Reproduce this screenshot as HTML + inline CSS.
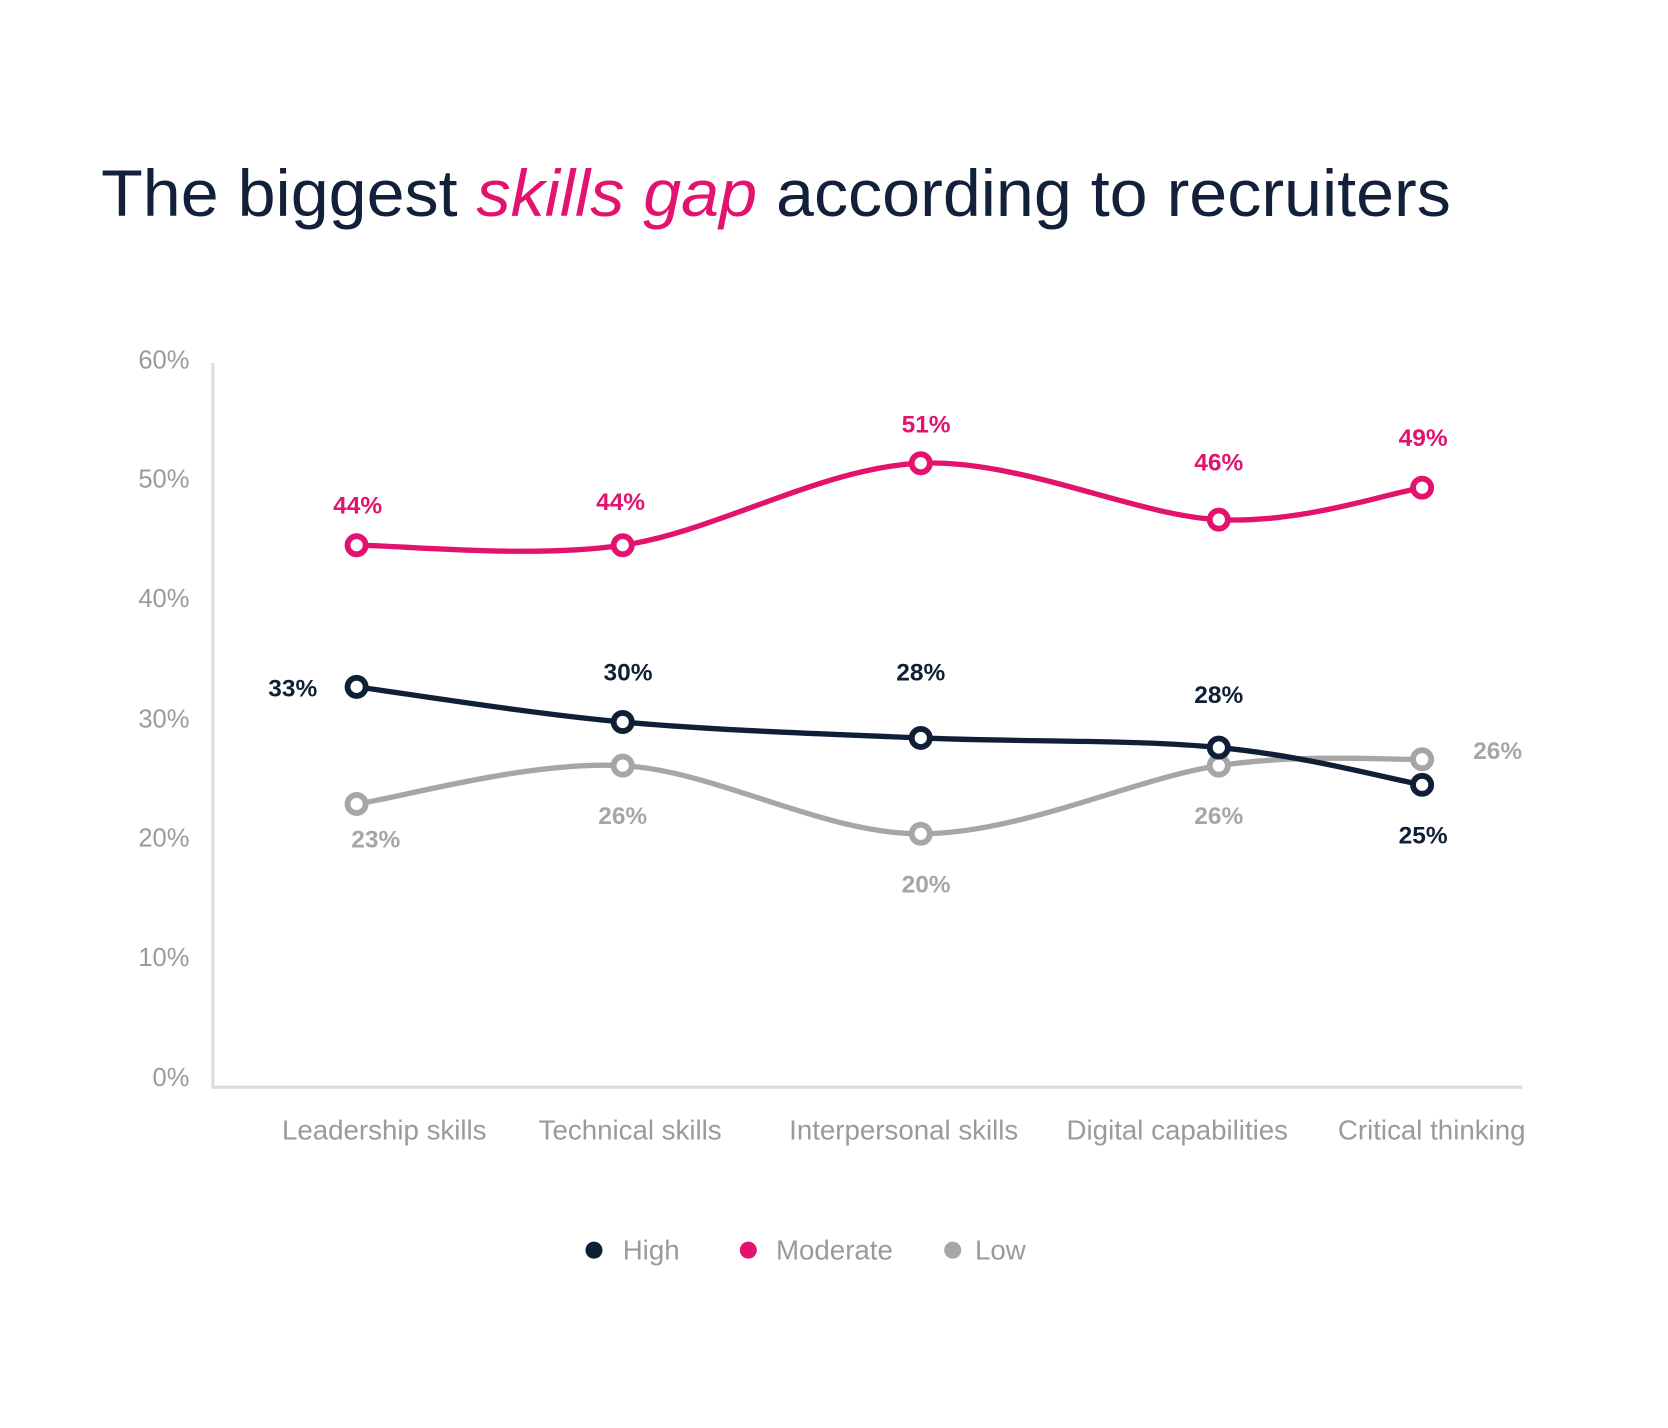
<!DOCTYPE html>
<html><head><meta charset="utf-8"><style>
html,body{margin:0;padding:0;background:#fff}
svg{display:block}
text{font-family:"Liberation Sans",sans-serif}
</style></head><body>
<svg width="1668" height="1428" viewBox="0 0 1567 1341" preserveAspectRatio="none" xmlns="http://www.w3.org/2000/svg">
<rect width="1567" height="1341" fill="#fff"/>
<text x="95" y="203" font-size="62" fill="#13203a" textLength="1268" lengthAdjust="spacingAndGlyphs">The biggest <tspan fill="#e3126f" font-style="italic">skills gap</tspan> according to recruiters</text>
<g font-size="24" fill="#9a9a9a" text-anchor="end">
<text x="178" y="346">60%</text><text x="178" y="458">50%</text><text x="178" y="570">40%</text>
<text x="178" y="683">30%</text><text x="178" y="795">20%</text><text x="178" y="907">10%</text><text x="178" y="1020">0%</text>
</g>
<line x1="200" y1="341" x2="200" y2="1022" stroke="#dcdcdc" stroke-width="3"/>
<line x1="199" y1="1021" x2="1430" y2="1021" stroke="#dcdcdc" stroke-width="3"/>
<g font-size="26" fill="#9a9a9a" text-anchor="middle">
<text x="361" y="1070">Leadership skills</text><text x="592" y="1070">Technical skills</text>
<text x="849" y="1070">Interpersonal skills</text><text x="1106" y="1070">Digital capabilities</text>
<text x="1345" y="1070">Critical thinking</text>
</g>
<g fill="none" stroke-width="5" stroke-linecap="round">
<path stroke="#a6a6a6" d="M335,755 C376.7,749 496.7,714.3 585,719 C673.3,723.7 771.7,783 865,783 C958.3,783 1066.5,730.7 1145,719 C1223.5,707.3 1304.2,714 1336,713"/>
<path stroke="#0f1f35" d="M335,645 C376.7,650.5 496.7,670 585,678 C673.3,686 771.7,689 865,693 C958.3,697 1066.5,694.3 1145,702 C1223.5,709.3 1304.2,731.2 1336,737"/>
<path stroke="#e3126f" d="M335,512 C376.7,512 496.7,524.8 585,512 C673.3,499.2 771.7,439 865,435 C958.3,431 1066.5,484.2 1145,488 C1223.5,491.8 1304.2,463 1336,458"/>
</g>
<g fill="#fff" stroke-width="5.5">
<g stroke="#a6a6a6"><circle cx="335" cy="755" r="8.5"/><circle cx="585" cy="719" r="8.5"/><circle cx="865" cy="783" r="8.5"/><circle cx="1145" cy="719" r="8.5"/><circle cx="1336" cy="713" r="8.5"/></g>
<g stroke="#0f1f35"><circle cx="335" cy="645" r="8.5"/><circle cx="585" cy="678" r="8.5"/><circle cx="865" cy="693" r="8.5"/><circle cx="1145" cy="702" r="8.5"/><circle cx="1336" cy="737" r="8.5"/></g>
<g stroke="#e3126f"><circle cx="335" cy="512" r="8.5"/><circle cx="585" cy="512" r="8.5"/><circle cx="865" cy="435" r="8.5"/><circle cx="1145" cy="488" r="8.5"/><circle cx="1336" cy="458" r="8.5"/></g>
</g>
<g font-size="23" font-weight="bold" text-anchor="middle">
<g fill="#e3126f"><text x="336" y="482">44%</text><text x="583" y="479">44%</text><text x="870" y="406">51%</text><text x="1145" y="442">46%</text><text x="1337" y="419">49%</text></g>
<g fill="#0f1f35"><text x="275" y="654">33%</text><text x="590" y="639">30%</text><text x="865" y="639">28%</text><text x="1145" y="660">28%</text><text x="1337" y="792">25%</text></g>
<g fill="#a6a6a6"><text x="353" y="796">23%</text><text x="585" y="774">26%</text><text x="870" y="838">20%</text><text x="1145" y="774">26%</text><text x="1407" y="713">26%</text></g>
</g>
<circle cx="558" cy="1174" r="8" fill="#0f1f35"/><circle cx="703" cy="1174" r="8" fill="#e3126f"/><circle cx="895" cy="1174" r="8" fill="#a6a6a6"/>
<g font-size="26" fill="#9a9a9a"><text x="585" y="1183">High</text><text x="729" y="1183">Moderate</text><text x="916" y="1183">Low</text></g>
</svg>
</body></html>
